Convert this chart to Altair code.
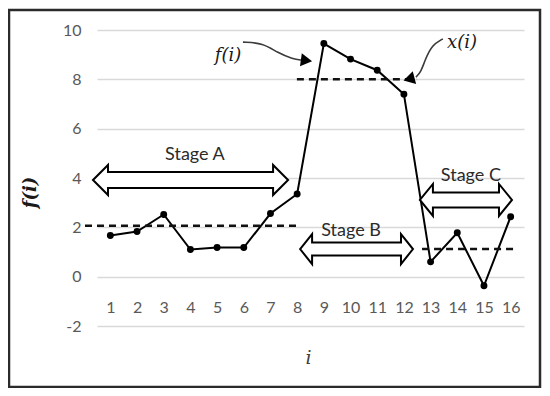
import altair as alt
import pandas as pd

# ---- data ----
i_vals = list(range(1, 17))
f_vals = [1.67, 1.83, 2.52, 1.10, 1.18, 1.18, 2.56, 3.35, 9.45, 8.82, 8.37, 7.40, 0.60, 1.78, -0.37, 2.43]

# dashed x(i) levels per stage
seg_x1 = [0.05, 7.99, 12.68]
seg_x2 = [8.03, 12.49, 16.27]
seg_level = [2.06, 8.00, 1.12]

# stage double arrows and labels
stage_labels = ["Stage A", "Stage B", "Stage C"]
stage_left = [0.35, 8.11, 12.60]
stage_right = [7.66, 12.34, 16.05]
stage_mid_y = [3.92, 1.12, 3.11]
stage_text_x = [4.17, 10.02, 14.51]
stage_text_y = [4.93, 1.85, 4.08]

# call-out notes
note_labels = ["f(i)", "x(i)"]
note_text_x = [5.41, 14.18]
note_text_y = [8.95, 9.47]
fi_curve_x = [5.97, 6.72, 7.28, 7.84, 8.18]
fi_curve_y = [9.51, 9.47, 9.07, 8.82, 8.78]
xi_curve_x = [13.46, 13.05, 12.79, 12.64, 12.45]
xi_curve_y = [9.64, 9.39, 8.78, 8.30, 8.09]
head_x = [8.35, 12.19]
head_y = [8.76, 8.01]
head_shape = ["triangle-right", "triangle-left"]
head_angle = [8, 345]

y_ticks = [-2, 0, 2, 4, 6, 8, 10]

# ---- layout ----
PLOT_W, PLOT_H = 427, 296
X_DOM = [0.5, 16.5]
Y_DOM = [-2, 10]
px_per_x = PLOT_W / (X_DOM[1] - X_DOM[0])

LABEL_FONT = "Lato"
GRAY = "#595959"

xs = alt.Scale(domain=X_DOM, nice=False, zero=False)
ys = alt.Scale(domain=Y_DOM, nice=False, zero=False)


def arrow_path(width_px, head_h, shaft_h, head_len):
    W = width_px / 2.0
    a = 1 - head_len / W
    h = head_h / 2.0 / W
    s = shaft_h / 2.0 / W
    pts = [(-1, 0), (-a, -h), (-a, -s), (a, -s), (a, -h), (1, 0), (a, h), (a, s), (-a, s), (-a, h)]
    return "M" + " L".join(f"{x:.4f},{y:.4f}" for x, y in pts) + " Z"


head_h = [30, 30, 32]
shaft_h = [16, 13, 15]
head_len = [15, 12, 13]

arrows = []
for k in range(3):
    wpx = (stage_right[k] - stage_left[k]) * px_per_x
    arrows.append({
        "cx": (stage_left[k] + stage_right[k]) / 2,
        "cy": stage_mid_y[k],
        "path": arrow_path(wpx, head_h[k], shaft_h[k], head_len[k]),
        "size": wpx * wpx,
    })
arrow_df = pd.DataFrame(arrows)

series_df = pd.DataFrame({"i": i_vals, "f": f_vals})
seg_df = pd.DataFrame({"x1": seg_x1, "x2": seg_x2, "y": seg_level})
stage_df = pd.DataFrame({"label": stage_labels, "x": stage_text_x, "y": stage_text_y})
note_df = pd.DataFrame({"label": note_labels, "x": note_text_x, "y": note_text_y})
curve_df = pd.DataFrame({
    "x": fi_curve_x + xi_curve_x,
    "y": fi_curve_y + xi_curve_y,
    "g": ["f"] * len(fi_curve_x) + ["x"] * len(xi_curve_x),
    "o": list(range(len(fi_curve_x))) + list(range(len(xi_curve_x))),
})
head_df = pd.DataFrame({"x": head_x, "y": head_y, "shape": head_shape, "angle": head_angle})

x_axis = alt.Axis(
    values=i_vals, format="d", grid=False, domain=False, ticks=False, tickSize=0,
    labelFont=LABEL_FONT, labelFontSize=16, labelColor=GRAY, labelPadding=0,
    labelBaseline="middle", labelFlush=False, offset=-19,
    titleFont="DejaVu Serif", titleFontStyle="italic", titleFontWeight="normal",
    titleFontSize=19, titleColor="#404040", titleX=211, titleY=50,
    titleBaseline="middle", titleAlign="center",
)
y_axis = alt.Axis(
    values=y_ticks, labelExpr="toString(datum.value)",
    grid=True, gridColor="#d9d9d9", gridWidth=1.5,
    domain=False, ticks=False, tickSize=0,
    labelFont=LABEL_FONT, labelFontSize=16, labelColor=GRAY, labelPadding=16,
    titleFont="DejaVu Serif", titleFontStyle="italic", titleFontWeight="bold",
    titleFontSize=18, titleColor="#1a1a1a", titleAngle=270, titleX=-67, titleY=162,
    titleBaseline="middle", titleAlign="center",
)


def X(field):
    return alt.X(field, scale=xs, axis=x_axis, title="i")


def Y(field):
    return alt.Y(field, scale=ys, axis=y_axis, title="f(i)")


line = alt.Chart(series_df).mark_line(stroke="black", strokeWidth=2).encode(
    x=X("i:Q"), y=Y("f:Q"),
)

points = alt.Chart(series_df).mark_point(filled=True, color="black", size=48, opacity=1).encode(
    x=X("i:Q"), y=Y("f:Q"),
)

dashes = alt.Chart(seg_df).mark_rule(stroke="#111111", strokeWidth=2.5, strokeDash=[7, 5]).encode(
    x=X("x1:Q"), x2="x2:Q", y=Y("y:Q"),
)

arrow_marks = alt.Chart(arrow_df).mark_point(
    filled=True, fill="white", stroke="black", strokeWidth=2, opacity=1, fillOpacity=1, strokeOpacity=1
).encode(
    x=X("cx:Q"), y=Y("cy:Q"),
    shape=alt.Shape("path:N", scale=None, legend=None),
    size=alt.Size("size:Q", scale=None, legend=None),
)

stage_text = alt.Chart(stage_df).mark_text(
    font=LABEL_FONT, fontSize=18, color="#2b2b2b", baseline="middle", align="center"
).encode(
    x=X("x:Q"), y=Y("y:Q"), text="label:N",
)

note_text = alt.Chart(note_df).mark_text(
    font="DejaVu Serif", fontStyle="italic", fontSize=18, color="#1a1a1a", baseline="middle", align="center"
).encode(
    x=X("x:Q"), y=Y("y:Q"), text="label:N",
)

curves = alt.Chart(curve_df).mark_line(stroke="#3a3a3a", strokeWidth=1.6, interpolate="basis").encode(
    x=X("x:Q"), y=Y("y:Q"), detail="g:N", order="o:Q",
)

heads = alt.Chart(head_df).mark_point(filled=True, color="black", size=170, opacity=1).encode(
    x=X("x:Q"), y=Y("y:Q"),
    shape=alt.Shape("shape:N", scale=None, legend=None),
    angle=alt.Angle("angle:Q", scale=None),
)

frame = alt.Chart(series_df).mark_rect(fill=None, stroke="#2b2b2b", strokeWidth=2.5).encode(
    x=alt.value(-88), x2=alt.value(443), y=alt.value(-20), y2=alt.value(357)
).transform_filter("datum.i == 1")

chart = alt.layer(
    line, dashes, arrow_marks, curves, heads, stage_text, note_text, points, frame
).properties(
    width=PLOT_W, height=PLOT_H,
    autosize=alt.AutoSizeParams(type="none"),
    padding={"left": 89, "top": 22, "right": 18, "bottom": 62},
    background="white",
).configure_view(stroke=None)

chart.save("out.html", embed_options={"renderer": "svg", "actions": False})
